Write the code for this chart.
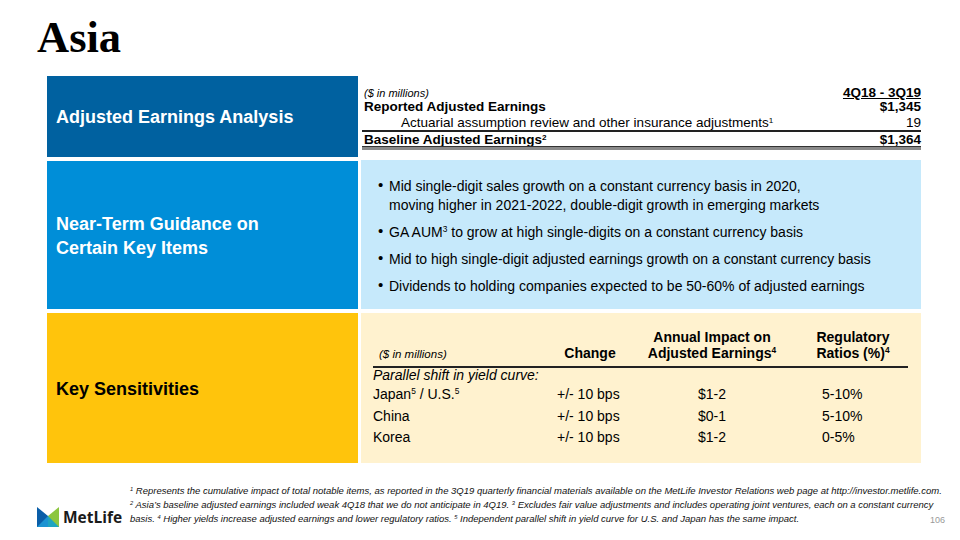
<!DOCTYPE html>
<html><head><meta charset="utf-8">
<script src="https://cdn.jsdelivr.net/npm/chart.js@4.4.1/dist/chart.umd.min.js"></script>
<style>
html,body{margin:0;padding:0;background:#fff;}
#slide{position:relative;width:960px;height:540px;overflow:hidden;font-family:"Liberation Sans",Arial,sans-serif;color:#000;}
.abs{position:absolute;white-space:nowrap;}
.t{position:absolute;white-space:nowrap;line-height:16px;height:16px;}
sup{font-size:60%;vertical-align:0;position:relative;top:-0.55em;line-height:0;}
</style></head>
<body><div id="slide"></div>
<script>
// ---- data ----
const pageTitle = "Asia";
const sectionLabels = ["Adjusted Earnings Analysis", "Near-Term Guidance on<br>Certain Key Items", "Key Sensitivities"];
const earningsPeriod = "4Q18 - 3Q19";
const earningsUnit = "($ in millions)";
const earningsItems = ["Reported Adjusted Earnings", "Actuarial assumption review and other insurance adjustments<sup>1</sup>", "Baseline Adjusted Earnings<sup>2</sup>"];
const earningsValues = ["$1,345", "19", "$1,364"];
const guidanceBullets = [
  "Mid single-digit sales growth on a constant currency basis in 2020,",
  "GA AUM<sup>3</sup> to grow at high single-digits on a constant currency basis",
  "Mid to high single-digit adjusted earnings growth on a constant currency basis",
  "Dividends to holding companies expected to be 50-60% of adjusted earnings"
];
const guidanceContinuation = "moving higher in 2021-2022, double-digit growth in emerging markets";
const sensHeaders = ["Change", "Annual Impact on<br>Adjusted Earnings<sup>4</sup>", "Regulatory<br>Ratios (%)<sup>4</sup>"];
const sensGroup = "Parallel shift in yield curve:";
const sensMarkets = ["Japan<sup>5</sup> / U.S.<sup>5</sup>", "China", "Korea"];
const sensChange = ["+/- 10 bps", "+/- 10 bps", "+/- 10 bps"];
const sensEarningsImpact = ["$1-2", "$0-1", "$1-2"];
const sensRatios = ["5-10%", "5-10%", "0-5%"];
const footnotes = [
  "<sup>1</sup> Represents the cumulative impact of total notable items, as reported in the 3Q19 quarterly financial materials available on the MetLife Investor Relations web page at http://investor.metlife.com.",
  "<sup>2</sup> Asia’s baseline adjusted earnings included weak 4Q18 that we do not anticipate in 4Q19. <sup>3</sup> Excludes fair value adjustments and includes operating joint ventures, each on a constant currency",
  "basis. <sup>4</sup> Higher yields increase adjusted earnings and lower regulatory ratios. <sup>5</sup> Independent parallel shift in yield curve for U.S. and Japan has the same impact."
];
const pageNumber = "106";

// ---- layout ----
const S = document.getElementById('slide');
function box(x,y,w,h,bg){const d=document.createElement('div');d.className='abs';Object.assign(d.style,{left:x+'px',top:y+'px',width:w+'px',height:h+'px',background:bg});S.appendChild(d);return d;}
function txt(html,x,cy,opts={}){const d=document.createElement('div');d.className='t';d.innerHTML=html;
  const fs=opts.size||14;d.style.fontSize=fs+'px';d.style.top=(cy-8)+'px';
  if(opts.bold)d.style.fontWeight='bold';if(opts.italic)d.style.fontStyle='italic';if(opts.color)d.style.color=opts.color;
  if(opts.underline)d.style.textDecoration='underline';
  if(opts.align==='right'){d.style.right=(960-x)+'px';}
  else if(opts.align==='center'){d.style.left=(x-200)+'px';d.style.width='400px';d.style.textAlign='center';}
  else d.style.left=x+'px';
  if(opts.family)d.style.fontFamily=opts.family;
  if(opts.ls)d.style.letterSpacing=opts.ls+'px';
  S.appendChild(d);return d;}

// title
const t=txt(pageTitle,37,37,{size:44.5,bold:true,family:'"Liberation Serif","Times New Roman",serif'});t.style.lineHeight='44px';t.style.height='44px';t.style.top='15px';

// left label blocks
box(47,76,311,81,'#0061a0');
box(47,161,311,148,'#008ed8');
box(47,313,311,150,'#ffc40c');
box(361,160,560,149,'#c6e9fb');
box(361,313,560,150,'#fff2cf');
txt(sectionLabels[0],56,117,{size:18,bold:true,color:'#fff'});
const l2=txt(sectionLabels[1],56,236,{size:18,bold:true,color:'#fff'});l2.style.lineHeight='24px';l2.style.height='48px';l2.style.top='212px';
txt(sectionLabels[2],56,389,{size:18,bold:true,color:'#000'});

// earnings table
txt(earningsUnit,364,93,{size:11,italic:true});
txt(earningsPeriod,921,93,{size:13.5,bold:true,underline:true,align:'right'});
const rowY=[107,123,140];
earningsItems.forEach((s,i)=>{
  txt(s,i===1?401:364,rowY[i],{size:13.5,bold:i!==1});
  txt(earningsValues[i],921,rowY[i],{size:13.5,bold:i!==1,align:'right'});
});
box(362,130,559,1.5,'#222');
box(362,145.5,559,1.2,'#333');
box(362,147,559,2.5,'#8a8a8a');

// guidance bullets
const bY=[186,232,259,286];
guidanceBullets.forEach((s,i)=>{
  txt('•',378,bY[i]-1,{size:15});
  txt(s,389,bY[i],{size:14});
});
txt(guidanceContinuation,389,205,{size:14});

// sensitivities
txt('($ in millions)',379,354,{size:11.5,italic:true});
txt(sensHeaders[0],590,353,{size:14,bold:true,align:'center'});
[712,853].forEach((cx,k)=>{
  const d=txt(sensHeaders[k+1],cx,345,{size:14,bold:true,align:'center'});d.style.height='32px';d.style.top='329px';
});
box(373,366,535,1.5,'#222');
txt(sensGroup,373,375,{size:14,italic:true});
const sY=[394,416,437];
sensMarkets.forEach((m,i)=>{
  txt(m,373,sY[i],{size:14});
  txt(sensChange[i],557,sY[i],{size:14});
  txt(sensEarningsImpact[i],698,sY[i],{size:14});
  txt(sensRatios[i],822,sY[i],{size:14});
});

// footnotes
[491,505,519].forEach((y,i)=>{txt(footnotes[i],130,y,{size:9.5,italic:true,color:'#111'});});
txt(pageNumber,945,520,{size:9,color:'#999',align:'right'});

// logo
const logo=document.createElementNS('http://www.w3.org/2000/svg','svg');
logo.setAttribute('width','24');logo.setAttribute('height','22');logo.style.position='absolute';logo.style.left='37px';logo.style.top='506px';
logo.innerHTML='<polygon points="0,1 11,10 11,21 0,21" fill="#0a5ea8"/><polygon points="11,10 0,21 11,21" fill="#1b93d2"/><polygon points="11,10 22,1 22,21 11,21" fill="#8cc63f"/><polygon points="11,10 11,21 22,21" fill="#0a9dd8" opacity="0.85"/>';
S.appendChild(logo);
txt('MetLife',63,517,{size:15.5,bold:true,color:'#1a1a1a',family:'"Open Sans","Liberation Sans",sans-serif'});
</script>
</body></html>
